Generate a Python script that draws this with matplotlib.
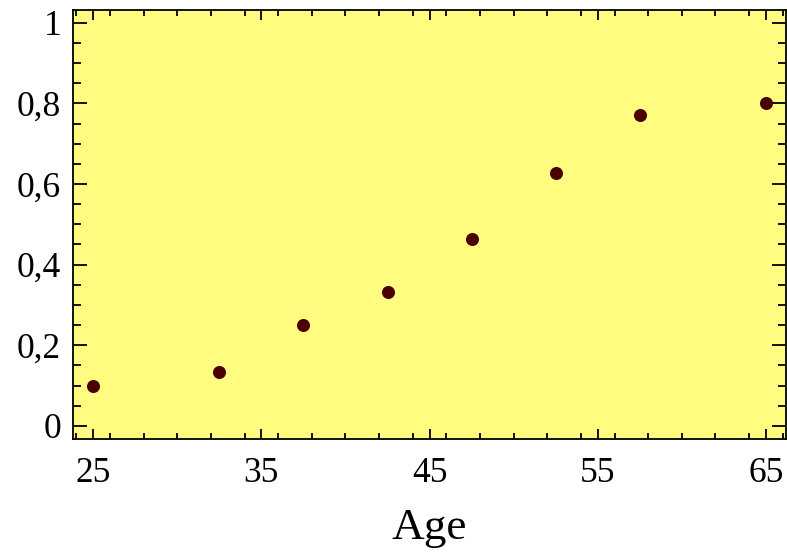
import matplotlib
matplotlib.use('Agg')
import matplotlib.pyplot as plt
from matplotlib.ticker import MultipleLocator, FuncFormatter

# Data
age = [25, 32.5, 37.5, 42.5, 47.5, 52.5, 57.5, 65]
share = [0.098, 0.134, 0.25, 0.333, 0.463, 0.627, 0.771, 0.80]

x_ticks = [25, 35, 45, 55, 65]
y_ticks = [0, 0.2, 0.4, 0.6, 0.8, 1.0]

plt.rcParams['font.family'] = ['Liberation Serif', 'DejaVu Serif']

fig = plt.figure(figsize=(7.87, 5.58), dpi=100)
ax = fig.add_axes([0.0928, 0.2133, 0.906, 0.769])
ax.set_facecolor('#fffc80')

ax.scatter(age, share, s=88, color='#4a0000', zorder=3, linewidths=0)

ax.set_xlim(23.8, 66.2)
ax.set_ylim(-0.0325, 1.032)

ax.set_xticks(x_ticks)
ax.set_yticks(y_ticks)
ax.xaxis.set_minor_locator(MultipleLocator(2))
ax.yaxis.set_minor_locator(MultipleLocator(0.05))

# comma decimal separator, integers without decimals
def comma_fmt(v, pos):
    if abs(v - round(v)) < 1e-9:
        return str(int(round(v)))
    return ('%g' % v).replace('.', ',')

ax.yaxis.set_major_formatter(FuncFormatter(comma_fmt))

ax.tick_params(axis='both', which='both', direction='in', top=True, right=True,
               labelsize=25.5, width=1.3, color='black')
ax.tick_params(axis='x', which='major', length=7, pad=13)
ax.tick_params(axis='x', which='minor', length=4)
ax.tick_params(axis='y', which='major', length=10, pad=8.5)
ax.tick_params(axis='y', which='minor', length=6)

for sp in ax.spines.values():
    sp.set_linewidth(1.3)

ax.set_xlabel('Age', fontsize=32.5, labelpad=13)

fig.savefig('out.png', dpi=100)
